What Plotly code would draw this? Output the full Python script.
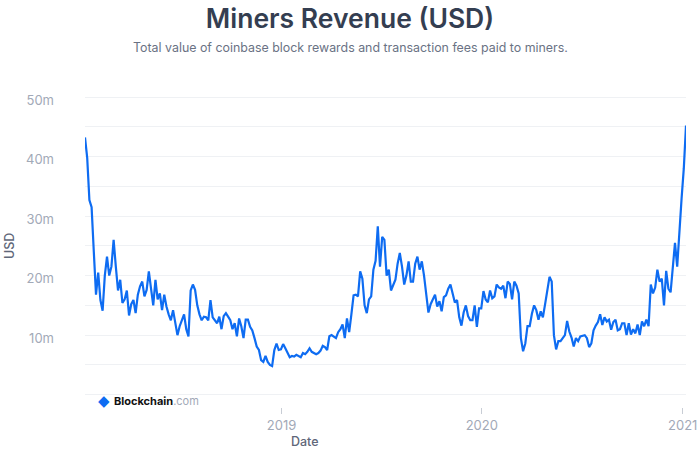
import pandas as pd
import plotly.graph_objects as go

# ---- data (~4-day steps, USD millions) ----
start_date = "2018-01-08"
end_date = "2021-01-07"
revenue_m = [
    43.2, 39.8, 32.7, 31.5, 24.0, 16.8, 20.5, 15.9, 14.1, 20.0,
    23.2, 20.0, 21.5, 26.0, 21.5, 17.5, 19.3, 15.4, 16.0, 17.5,
    13.3, 15.2, 15.9, 13.7, 16.8, 18.2, 19.0, 16.5, 17.6, 20.7,
    17.8, 15.0, 19.3, 16.0, 17.0, 14.2, 16.8, 14.8, 13.5, 12.5,
    14.2, 12.0, 10.0, 11.5, 12.5, 13.5, 11.0, 9.8, 17.5, 18.5,
    17.6, 15.0, 13.5, 12.5, 13.1, 13.0, 12.5, 15.9, 13.0, 12.5,
    12.0, 13.1, 11.0, 13.2, 13.7, 13.1, 12.5, 11.0, 12.0, 9.8,
    12.8, 11.5, 9.5, 12.6, 12.6, 11.4, 10.8, 9.5, 8.1, 7.5,
    5.8, 5.5, 6.5, 5.5, 5.0, 4.8, 7.5, 8.6, 7.5, 7.6,
    8.5, 7.8, 7.0, 6.3, 6.5, 6.4, 6.7, 6.5, 6.3, 7.0,
    6.8, 7.2, 7.8, 7.2, 7.0, 6.8, 7.0, 7.4, 8.2, 8.0,
    7.5, 9.8, 10.0, 9.8, 9.5, 10.5, 11.0, 11.8, 9.5, 12.8,
    10.5, 13.5, 16.7, 16.8, 16.5, 20.7, 19.5, 15.0, 13.7, 16.0,
    16.5, 21.0, 22.5, 28.3, 21.5, 26.5, 26.0, 20.0, 21.0, 17.5,
    18.5, 19.3, 22.0, 23.8, 21.5, 18.5, 20.0, 22.4, 19.0, 19.0,
    22.0, 23.2, 21.0, 22.4, 20.0, 17.0, 13.8, 15.2, 16.0, 16.8,
    14.8, 15.7, 14.0, 16.4, 16.7, 17.8, 18.5, 17.0, 15.5, 15.9,
    13.0, 11.6, 13.8, 15.0, 13.2, 12.5, 12.5, 15.0, 11.4, 14.5,
    14.5, 17.4, 16.0, 15.5, 17.5, 16.2, 16.5, 18.5, 18.0, 17.8,
    18.3, 16.2, 19.0, 18.6, 16.0, 19.0, 18.3, 17.0, 9.5, 7.3,
    8.6, 11.5, 11.5, 13.6, 15.0, 14.2, 12.6, 14.0, 13.0, 15.2,
    17.5, 19.8, 19.0, 10.0, 7.6, 9.0, 9.0, 9.5, 10.0, 12.4,
    10.6, 9.6, 8.1, 9.5, 9.0, 9.8, 9.9, 10.0, 9.5, 8.0,
    8.6, 10.8, 11.6, 12.2, 13.5, 11.7, 13.0, 12.3, 12.6, 10.9,
    12.2, 12.6, 10.8, 11.0, 12.0, 12.0, 10.0, 12.0, 10.1, 11.0,
    10.3, 11.8, 10.0, 12.3, 11.5, 12.6, 11.5, 18.5, 17.0, 18.0,
    21.0, 19.0, 19.5, 15.0, 20.8, 17.8, 17.2, 21.0, 25.5, 21.5,
    28.0, 33.0, 38.0, 45.2,
]
y_tick_values_m = [0, 5, 10, 15, 20, 25, 30, 35, 40, 45, 50]
y_tick_labels = ["", "", "10m", "", "20m", "", "30m", "", "40m", "", "50m"]
x_tick_dates = ["2019-01-01", "2020-01-01", "2021-01-01"]
x_tick_labels = ["2019", "2020", "2021"]

dates = pd.date_range(start_date, end_date, periods=len(revenue_m))
values = [v * 1e6 for v in revenue_m]

FONT = "Inter"
TICK_COLOR = "#a2a9b7"
PL, PR, PT, PB = 85, 686, 96, 407   # plot-area pixel box
PW, PH = PR - PL, PB - PT


def px(x):
    return (x - PL) / PW


def py(y):
    return (PB - y) / PH


fig = go.Figure()
fig.add_trace(go.Scatter(
    x=dates, y=values, mode="lines",
    line=dict(color="#0e6cf2", width=2.2),
    hoverinfo="skip", showlegend=False,
))

fig.update_layout(
    width=700, height=459,
    margin=dict(l=PL, r=700 - PR, t=PT, b=459 - PB, autoexpand=False),
    paper_bgcolor="white", plot_bgcolor="white",
    font=dict(family=FONT, color=TICK_COLOR),
    title=dict(
        text="Miners Revenue (USD)",
        x=0.5, xref="container", xanchor="center",
        y=1 - 19 / 459, yref="container", yanchor="middle",
        font=dict(family=FONT, size=26.5, color="#343e51", weight=600),
    ),
    xaxis=dict(
        type="date",
        range=[start_date, end_date],
        showgrid=False, zeroline=False, showline=False,
        tickvals=x_tick_dates, ticktext=x_tick_labels,
        ticks="outside", ticklen=6, tickwidth=1, tickcolor="#c8cdd5",
        tickfont=dict(family=FONT, size=13, color=TICK_COLOR),
    ),
    yaxis=dict(
        range=[-2.07e6, 50.17e6],
        tickvals=[v * 1e6 for v in y_tick_values_m], ticktext=y_tick_labels,
        showgrid=True, gridcolor="#eff1f4", gridwidth=1,
        zeroline=False, showline=False, ticks="",
        ticklabelstandoff=30, ticklabelshift=3,
        tickfont=dict(family=FONT, size=13, color=TICK_COLOR),
    ),
    annotations=[
        dict(text="Total value of coinbase block rewards and transaction fees paid to miners.",
             xref="paper", yref="paper", x=px(350), y=py(48),
             xanchor="center", yanchor="middle", showarrow=False,
             font=dict(family=FONT, size=12.4, color="#6a7284")),
        dict(text="USD", xref="paper", yref="paper",
             x=px(9), y=py(246), textangle=-90,
             xanchor="center", yanchor="middle", showarrow=False,
             font=dict(family=FONT, size=12.5, color="#5f6779", weight=500)),
        dict(text="Date", xref="paper", yref="paper",
             x=px(305), y=py(441),
             xanchor="center", yanchor="middle", showarrow=False,
             font=dict(family=FONT, size=12.5, color="#5f6779", weight=500)),
        dict(text="◆", xref="paper", yref="paper",
             x=px(104), y=py(401),
             xanchor="center", yanchor="middle", showarrow=False,
             font=dict(family="DejaVu Sans", size=15, color="#0e6cf2")),
        dict(text="<b>Blockchain</b><span style='color:#a2a9b7'>.com</span>",
             xref="paper", yref="paper",
             x=px(112), y=py(401),
             xanchor="left", yanchor="middle", showarrow=False,
             font=dict(family=FONT, size=11, color="#111111")),
    ],
)

fig.write_html("out.html", config={"displayModeBar": False})

# remove the default page margin so the 700x459 figure fits the window exactly
with open("out.html", "r", encoding="utf-8") as f:
    html = f.read()
html = html.replace("<head>", "<head><style>html,body{margin:0;padding:0;overflow:hidden;}</style>", 1)
with open("out.html", "w", encoding="utf-8") as f:
    f.write(html)
